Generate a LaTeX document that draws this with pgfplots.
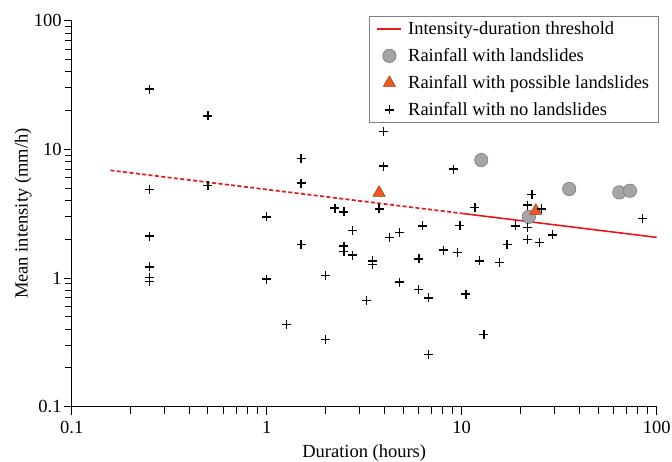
\documentclass[border=0pt]{standalone}
\usepackage{pgfplots}
\pgfplotsset{compat=1.18}
\usepackage{fontspec}
\setmainfont{Liberation Serif}
\definecolor{IDred}{HTML}{E3191C}
\definecolor{DotGray}{HTML}{A5A5A5}
\definecolor{DotEdge}{HTML}{7A7A7A}
\definecolor{TriOrange}{HTML}{F05A1E}
\definecolor{TriEdge}{HTML}{8C3A14}

\begin{document}
\begin{tikzpicture}
\useasboundingbox (-71.7pt,-55.3pt) rectangle (600.3pt,406.7pt);
\begin{loglogaxis}[
  scale only axis, width=585pt, height=386pt,
  xmin=0.1, xmax=100, ymin=0.1, ymax=100,
  axis x line*=bottom, axis y line*=left,
  axis line style={line width=1.3pt},
  tick align=outside, major tick length=8pt, minor tick length=7pt,
  every tick/.style={line width=1pt, black},
  xtick={0.1,1,10,100}, xticklabels={0.1,1,10,100},
  ytick={0.1,1,10,100}, yticklabels={0.1,1,10,100},
  /pgf/number format/assume math mode=true,
  font=\fontsize{18.5}{22}\selectfont,
  ticklabel style={font=\fontsize{18.5}{22}\selectfont},
  xticklabel style={inner sep=0pt, yshift=-6pt},
  yticklabel style={inner sep=0pt, xshift=-2pt},
  xlabel={Duration (hours)}, ylabel={Mean intensity (mm/h)},
  xlabel style={at={(axis description cs:0.5,-0.12)}, anchor=center},
  ylabel style={at={(axis description cs:-0.083,0.5)}, anchor=center, rotate=0},
  legend cell align=left,
  legend style={at={(rel axis cs:1.003,1.011)}, anchor=north east,
    draw=gray, line width=0.6pt, inner xsep=7pt, inner ysep=3pt,
    font=\fontsize{18.5}{22}\selectfont, row sep=8.5pt,
    /tikz/every odd column/.style={column sep=4pt}},
  clip=false,
]
\addplot[IDred, line width=1.6pt,
  legend image code/.code={\draw[IDred,line width=1.6pt] (0pt,0pt)--(24pt,0pt);}]
  coordinates {(10,3.18) (100,2.07)};
\addlegendentry{Intensity-duration threshold}
\addplot[IDred, line width=1.7pt, dash pattern=on 4pt off 2.4pt, forget plot]
  coordinates {(0.158,6.87) (10,3.18)};
\addplot[only marks, mark=*, mark size=6.7pt,
  mark options={fill=DotGray, draw=DotEdge, line width=0.6pt},
  legend image code/.code={\draw[mark=*,mark size=6.7pt,mark options={fill=DotGray,draw=DotEdge,line width=0.6pt}] plot coordinates {(12pt,0pt)};}]
  coordinates {(12.6,8.26) (22.1,2.99) (35.6,4.92) (64.3,4.63) (72.9,4.77)};
\addlegendentry{Rainfall with landslides}
\addplot[only marks, mark=triangle*, mark size=7pt,
  mark options={fill=TriOrange, draw=TriEdge, line width=0.5pt},
  legend image code/.code={\draw[mark=triangle*,mark size=7pt,mark options={fill=TriOrange,draw=TriEdge,line width=0.5pt}] plot coordinates {(12pt,0pt)};}]
  coordinates {(3.77,4.6) (24.0,3.33)};
\addlegendentry{Rainfall with possible landslides}
\addplot[only marks, mark=+, mark size=4.5pt, mark options={black, line width=1.35pt},
  legend image code/.code={\draw[mark=+,mark size=4.5pt,mark options={black,line width=1.35pt}] plot coordinates {(12pt,0pt)};}]
  coordinates {
  (0.25,29.4) (0.25,4.9) (0.25,2.12) (0.25,1.22) (0.25,1.01) (0.25,0.94)
  (0.5,18.2) (0.5,5.25) (1,2.99) (1,0.98)
  (1.5,8.45) (1.5,5.47) (1.5,1.83) (2.24,3.5) (2.49,3.27) (2.76,2.35)
  (2.49,1.77) (2.49,1.60) (2.76,1.51) (2.01,1.05) (1.26,0.437) (2.0,0.334)
  (3.26,0.67) (3.5,1.36) (3.5,1.28) (4.25,2.07) (4.79,2.27) (4.79,0.93)
  (6.28,2.54) (6.04,1.41) (6.0,0.81) (6.74,0.70) (6.74,0.254)
  (8.05,1.65) (9.5,1.58) (9.8,2.57) (10.5,0.75) (12.3,1.36) (13.0,0.362)
  (15.6,1.32) (17.1,1.83) (18.9,2.54) (21.7,2.48) (21.7,2.0) (25.0,1.88)
  (29.3,2.16) (84.8,2.91) (3.96,13.7) (3.96,7.42) (3.77,3.44) (9.06,7.03)
  (11.7,3.52) (22.9,4.47) (21.7,3.69) (25.7,3.44)
  };
\addlegendentry{Rainfall with no landslides}
\end{loglogaxis}
\end{tikzpicture}
\end{document}
